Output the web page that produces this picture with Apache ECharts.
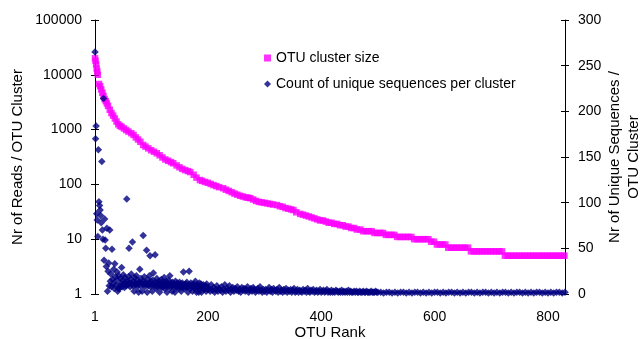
<!DOCTYPE html>
<html>
<head>
<meta charset="utf-8">
<script src="https://cdn.jsdelivr.net/npm/echarts@6/dist/echarts.min.js"></script>
<style>
  html, body { margin: 0; padding: 0; background: #fff; }
  #chart { width: 641px; height: 339px; }
</style>
</head>
<body>
<div id="chart"></div>
<script>
// [rank, reads] for the OTU cluster size curve
const clusterSize = [
  [1,20000],[2,18000],[3,15500],[4,13000],[5,11500],[6,10000],[8,6800],[10,6200],[12,5400],[14,4700],
  [16,4100],[18,3600],[20,3300],[22,3000],[24,2700],[27,2300],[30,2000],[33,1800],[36,1600],[39,1400],
  [42,1250],[45,1170],[48,1120],[52,1050],[56,980],[60,920],[65,860],[69,800],[73,720],[77,660],
  [81,600],[86,525],[90,490],[95,455],[100,420],[105,395],[110,370],[115,340],[120,310],[125,285],
  [130,270],[135,255],[139,243],[145,222],[150,205],[155,192],[160,182],[165,175],[169,168],[175,150],
  [180,133],[186,120],[190,116],[195,111],[200,107],[205,102],[210,97],[215,93],[220,89],[227,85],
  [232,80],[237,76],[242,72],[247,68],[252,65],[257,62],[262,60],[267,58],[271,57],[275,56],
  [280,53],[285,50],[290,48],[295,47],[300,46],[305,45],[310,44],[315,43],[322,42],[327,40],
  [332,39],[337,37],[342,36],[347,35],[351,34],[356,31],[363,29],[368,28],[373,27],[378,26],
  [383,25],[388,24],[393,23],[398,22],[403,22],[408,21],[413,20],[418,20],[423,19],[428,19],
  [433,18],[438,18],[443,17],[448,17],[453,16],[458,16],[463,15],[469,15],[474,14],[479,14],
  [484,14],[489,14],[494,13],[499,13],[504,13],[509,13],[514,12],[519,12],[524,12],[529,12],
  [534,11],[539,11],[544,11],[549,11],[554,11],[559,11],[564,10],[569,10],[574,10],[579,10],
  [584,10],[589,10],[594,9],[599,9],[604,8],[609,8],[614,8],[619,8],[624,7],[629,7],
  [634,7],[639,7],[644,7],[649,7],[654,7],[659,7],[664,6],[669,6],[674,6],[679,6],
  [684,6],[689,6],[694,6],[699,6],[704,6],[709,6],[714,6],[719,6],[724,5],[729,5],
  [734,5],[739,5],[744,5],[749,5],[754,5],[759,5],[764,5],[769,5],[774,5],[779,5],
  [784,5],[789,5],[794,5],[799,5],[804,5],[809,5],[814,5],[819,5],[824,5],[829,5]
];

// unique sequences per cluster, ranks 1..200 (one per rank)
const uniqueTop = [
  265,170,184,88,81,63,158,101,97,92, 86,78,145,70,60,214,37,82,59,50,
  30,72,3,25,34,9,70,14,22,8, 49,16,11,27,6,33,19,10,15,24,
  3,6,20,6,9,17,12,29,8,15, 21,11,7,18,13,9,104,14,10,19,
  50,12,8,16,22,11,57,9,14,3, 18,12,10,20,8,15,11,2,13,27,
  9,17,12,3,14,64,10,19,8,13, 11,48,2,16,9,12,20,42,8,14,
  10,3,15,23,11,9,43,13,6,17, 8,12,10,14,2,11,9,16,7,13,
  8,10,18,6,12,9,14,2,11,8, 15,10,20,7,12,9,3,13,10,8,
  11,2,14,9,7,12,8,10,6,13, 9,11,3,8,12,7,24,10,6,9,
  11,7,13,8,2,10,25,9,6,12, 8,10,3,9,7,11,6,14,8,2,
  10,7,9,2,12,6,8,11,2,9, 7,10,5,8,6,9,3,11,7,5
];
// ranks 202..500, every second rank
const uniqueMid = [
  6,3,10,4,7,2,5,9,3,6, 4,8,2,5,10,3,6,4,9,2,
  5,7,3,6,4,8,3,5,2,7, 4,6,3,5,8,2,4,6,3,7,
  5,2,4,6,3,8,4,2,5,3, 5,2,4,7,3,5,2,6,4,3,
  5,2,7,3,4,2,5,3,6,2, 4,3,5,2,4,6,2,3,5,2,
  4,3,2,5,3,4,2,6,3,2, 4,3,5,2,3,4,2,3,5,2,
  3,4,2,3,5,2,3,2,4,2, 3,2,4,3,2,3,2,4,2,3,
  2,3,2,4,2,3,2,2,3,2, 3,2,2,3,2,2,3,2,2,3,
  2,2,2,3,2,2,2,3,2,2
];
// ranks 505..830, every fifth rank
const uniqueTail = [
  2,1,2,2,1,2,1,2,2,1,2, 1,2,2,1,2,1,2,1,2,2,1,
  2,1,2,2,1,2,1,2,1,2,2, 1,2,1,2,2,1,2,1,2,1,2,
  2,1,2,1,2,2,1,2,1,2,1, 2,2,1,2,1,2,1,2,2,1,2
];

const rankTicks = [1, 200, 400, 600, 800];

const uniquePoints = []
  .concat(uniqueTop.map((v, i) => [1 + i, v]))
  .concat(uniqueMid.map((v, i) => [202 + 2 * i, v]))
  .concat(uniqueTail.map((v, i) => [505 + 5 * i, v]));

const font = 'Liberation Sans, Arial, Helvetica, sans-serif';
const chart = echarts.init(document.getElementById('chart'));

chart.setOption({
  animation: false,
  backgroundColor: '#fff',
  textStyle: { fontFamily: font, color: '#000' },
  grid: { left: 95, right: 76, top: 20, bottom: 45, outerBoundsMode: 'none', containLabel: false },
  legend: {
    orient: 'vertical',
    left: 259,
    top: 46,
    itemGap: 12,
    itemWidth: 7,
    itemHeight: 7,
    textStyle: { fontSize: 14, color: '#000', fontFamily: font },
    data: ['OTU cluster size', 'Count of unique sequences per cluster']
  },
  xAxis: {
    type: 'value',
    min: 1,
    max: 830,
    name: 'OTU Rank',
    nameLocation: 'middle',
    nameGap: 31,
    nameMoveOverlap: false,
    nameTextStyle: { fontSize: 15, color: '#000' },
    axisLine: { show: false },
    axisTick: { show: false },
    splitLine: { show: false },
    axisLabel: { customValues: rankTicks, fontSize: 14, color: '#000', margin: 16 }
  },
  yAxis: [
    {
      type: 'log',
      logBase: 10,
      min: 1,
      max: 100000,
      position: 'left',
      name: 'Nr of Reads / OTU Cluster',
      nameLocation: 'middle',
      nameRotate: 90,
      nameGap: 70,
      nameMoveOverlap: false,
      nameTextStyle: { fontSize: 15, color: '#000' },
      axisLine: { show: true, onZero: false, lineStyle: { color: '#000' } },
      axisTick: { show: true, length: 4, lineStyle: { color: '#000' } },
      splitLine: { show: false },
      minorTick: { show: false },
      axisLabel: { fontSize: 14, color: '#000', margin: 13, formatter: v => String(Math.round(v)) }
    },
    {
      type: 'value',
      min: 0,
      max: 300,
      interval: 50,
      position: 'right',
      name: 'Nr of Unique Sequences /\nOTU Cluster',
      nameLocation: 'middle',
      nameRotate: 90,
      nameGap: 40,
      nameMoveOverlap: false,
      nameTextStyle: { fontSize: 15, color: '#000', lineHeight: 19, align: 'center' },
      axisLine: { show: true, onZero: false, lineStyle: { color: '#000' } },
      axisTick: { show: true, length: 4, lineStyle: { color: '#000' } },
      splitLine: { show: false },
      axisLabel: { fontSize: 14, color: '#000', margin: 13 }
    },
    // inner halves of the cross ticks
    {
      type: 'log', logBase: 10, min: 1, max: 100000, position: 'left',
      axisLine: { show: false }, axisLabel: { show: false }, splitLine: { show: false },
      axisTick: { show: true, inside: true, length: 4, lineStyle: { color: '#000' } }
    },
    {
      type: 'value', min: 0, max: 300, interval: 50, position: 'right',
      axisLine: { show: false }, axisLabel: { show: false }, splitLine: { show: false },
      axisTick: { show: true, inside: true, length: 4, lineStyle: { color: '#000' } }
    }
  ],
  series: [
    {
      name: 'OTU cluster size',
      type: 'scatter',
      yAxisIndex: 0,
      symbol: 'rect',
      symbolSize: 6.5,
      itemStyle: { color: '#ff00ff' },
      data: clusterSize
    },
    {
      name: 'Count of unique sequences per cluster',
      type: 'scatter',
      yAxisIndex: 1,
      symbol: 'diamond',
      symbolSize: 7.5,
      itemStyle: { color: '#000080' },
      data: uniquePoints
    }
  ]
});
</script>
</body>
</html>
